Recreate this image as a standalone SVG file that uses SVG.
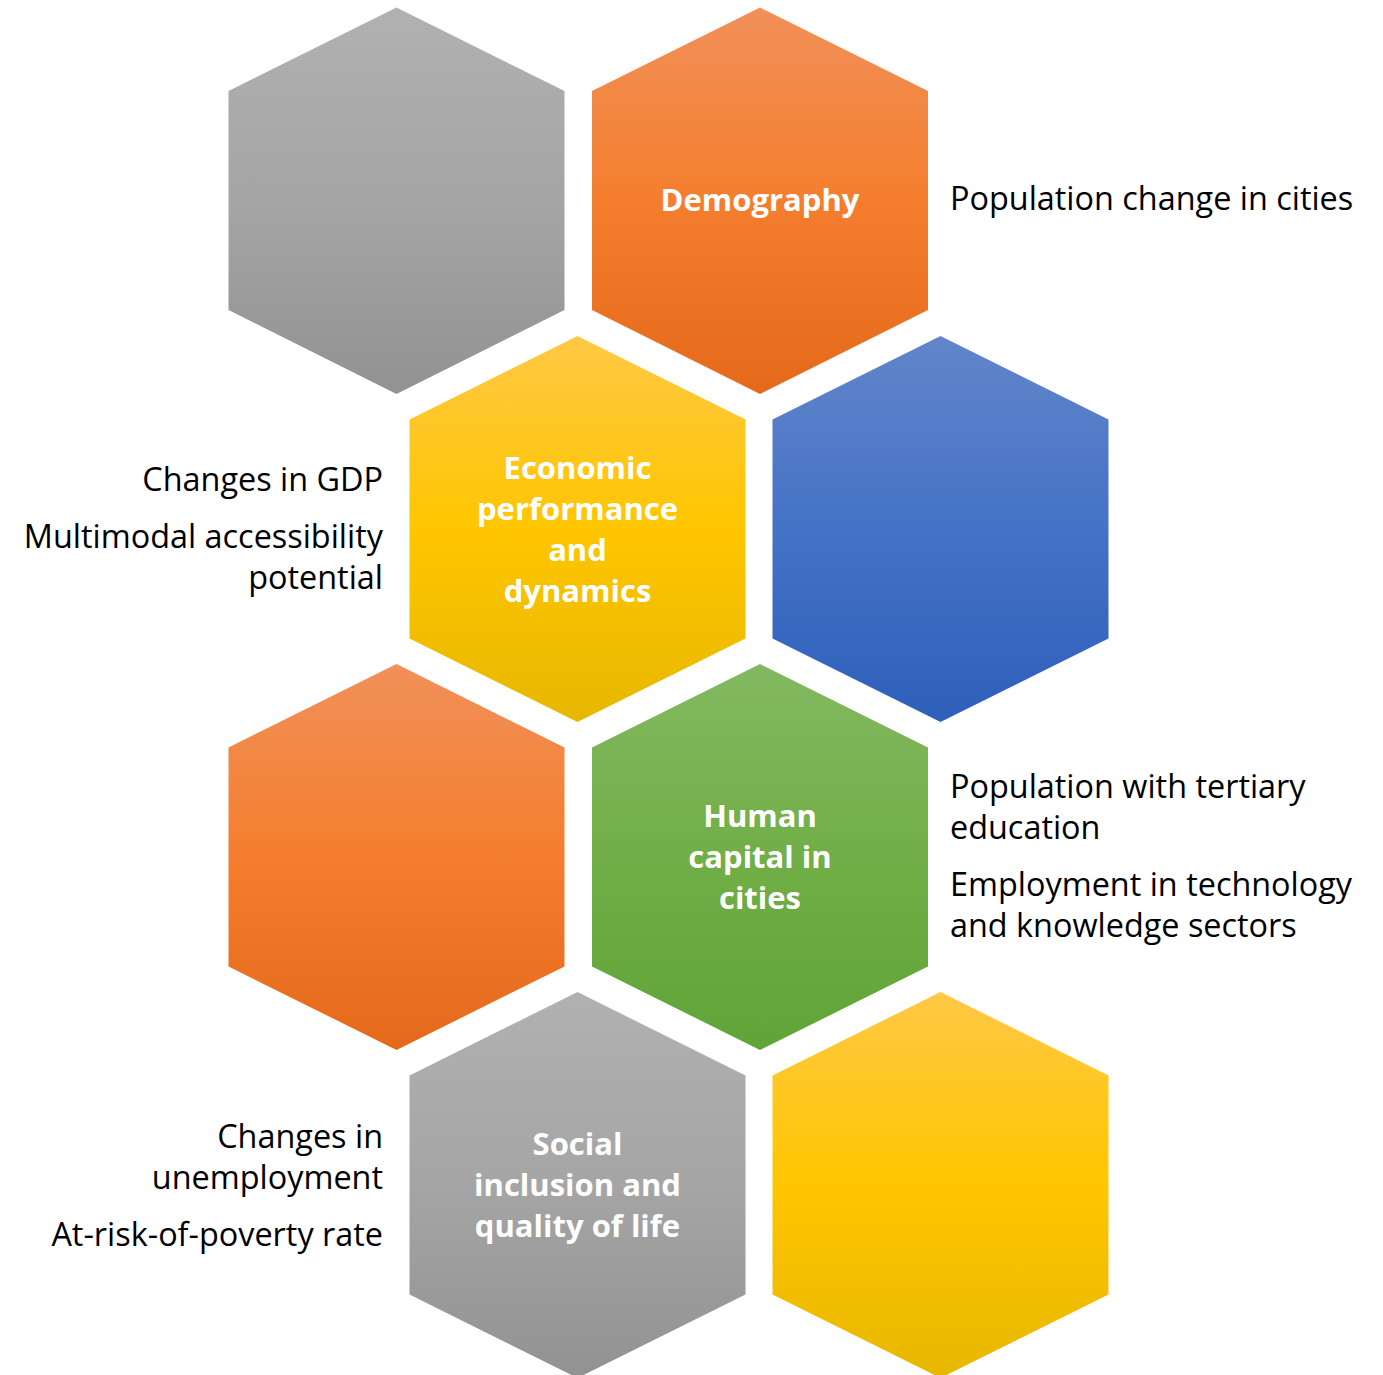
<svg xmlns="http://www.w3.org/2000/svg" width="1383" height="1375" viewBox="0 0 1383 1375">
<defs>
<linearGradient id="gGray" x1="0" y1="0" x2="0" y2="1"><stop offset="0" stop-color="#b1b1b1"/><stop offset="0.5" stop-color="#a5a5a5"/><stop offset="1" stop-color="#929292"/></linearGradient>
<linearGradient id="gOrange" x1="0" y1="0" x2="0" y2="1"><stop offset="0" stop-color="#f19059"/><stop offset="0.5" stop-color="#f47e2e"/><stop offset="1" stop-color="#e5691b"/></linearGradient>
<linearGradient id="gYellow" x1="0" y1="0" x2="0" y2="1"><stop offset="0" stop-color="#ffc845"/><stop offset="0.5" stop-color="#ffc600"/><stop offset="1" stop-color="#e7b700"/></linearGradient>
<linearGradient id="gBlue" x1="0" y1="0" x2="0" y2="1"><stop offset="0" stop-color="#6285ca"/><stop offset="0.5" stop-color="#4472c6"/><stop offset="1" stop-color="#2e5fb9"/></linearGradient>
<linearGradient id="gGreen" x1="0" y1="0" x2="0" y2="1"><stop offset="0" stop-color="#83b961"/><stop offset="0.5" stop-color="#71ae47"/><stop offset="1" stop-color="#60a438"/></linearGradient>
</defs>
<style>
.lbl{font-family:"Open Sans","Noto Sans","DejaVu Sans",sans-serif;font-weight:bold;font-size:31px;fill:#ffffff;text-anchor:middle}
.side{font-family:"Open Sans","Noto Sans","DejaVu Sans",sans-serif;font-size:32.4px;fill:#000000}
.r{text-anchor:end}
.l{text-anchor:start}
</style>
<rect width="1383" height="1375" fill="#ffffff"/>
<g id="connectors"></g>
<g id="hex-gray-top">
<polygon points="396.5,7.5 564.5,91 564.5,310 396.5,394 228.5,310 228.5,91" fill="url(#gGray)"/>
</g>
<g id="hex-demography">
<polygon points="760,7.5 928,91 928,310 760,394 592,310 592,91" fill="url(#gOrange)"/>
<text class="lbl" x="760" y="211">Demography</text>
</g>
<g id="note-demography">
<text class="side l" x="950" y="210">Population change in cities</text>
</g>
<g id="hex-economic">
<polygon points="577.5,336 745.5,419.5 745.5,638.5 577.5,722 409.5,638.5 409.5,419.5" fill="url(#gYellow)"/>
<text class="lbl" x="577.5" y="479">Economic</text>
<text class="lbl" x="577.5" y="520">performance</text>
<text class="lbl" x="577.5" y="561">and</text>
<text class="lbl" x="577.5" y="602">dynamics</text>
</g>
<g id="note-economic">
<text class="side r" x="383" y="491">Changes in GDP</text>
<text class="side r" x="383" y="548">Multimodal accessibility</text>
<text class="side r" x="383" y="589">potential</text>
</g>
<g id="hex-blue">
<polygon points="940.5,336 1108.5,419.5 1108.5,638.5 940.5,722 772.5,638.5 772.5,419.5" fill="url(#gBlue)"/>
</g>
<g id="hex-orange-mid">
<polygon points="396.5,664 564.5,747.5 564.5,966.5 396.5,1050 228.5,966.5 228.5,747.5" fill="url(#gOrange)"/>
</g>
<g id="hex-human">
<polygon points="760,664 928,747.5 928,966.5 760,1050 592,966.5 592,747.5" fill="url(#gGreen)"/>
<text class="lbl" x="760" y="827">Human</text>
<text class="lbl" x="760" y="868">capital in</text>
<text class="lbl" x="760" y="909">cities</text>
</g>
<g id="note-human">
<text class="side l" x="950" y="798">Population with tertiary</text>
<text class="side l" x="950" y="839">education</text>
<text class="side l" x="950" y="896">Employment in technology</text>
<text class="side l" x="950" y="937">and knowledge sectors</text>
</g>
<g id="hex-social">
<polygon points="577.5,992 745.5,1075.5 745.5,1294.5 577.5,1378 409.5,1294.5 409.5,1075.5" fill="url(#gGray)"/>
<text class="lbl" x="577.5" y="1155">Social</text>
<text class="lbl" x="577.5" y="1196">inclusion and</text>
<text class="lbl" x="577.5" y="1237">quality of life</text>
</g>
<g id="note-social">
<text class="side r" x="383" y="1148">Changes in</text>
<text class="side r" x="383" y="1189">unemployment</text>
<text class="side r" x="383" y="1246">At-risk-of-poverty rate</text>
</g>
<g id="hex-yellow-bottom">
<polygon points="940.5,992 1108.5,1075.5 1108.5,1294.5 940.5,1378 772.5,1294.5 772.5,1075.5" fill="url(#gYellow)"/>
</g>
</svg>
